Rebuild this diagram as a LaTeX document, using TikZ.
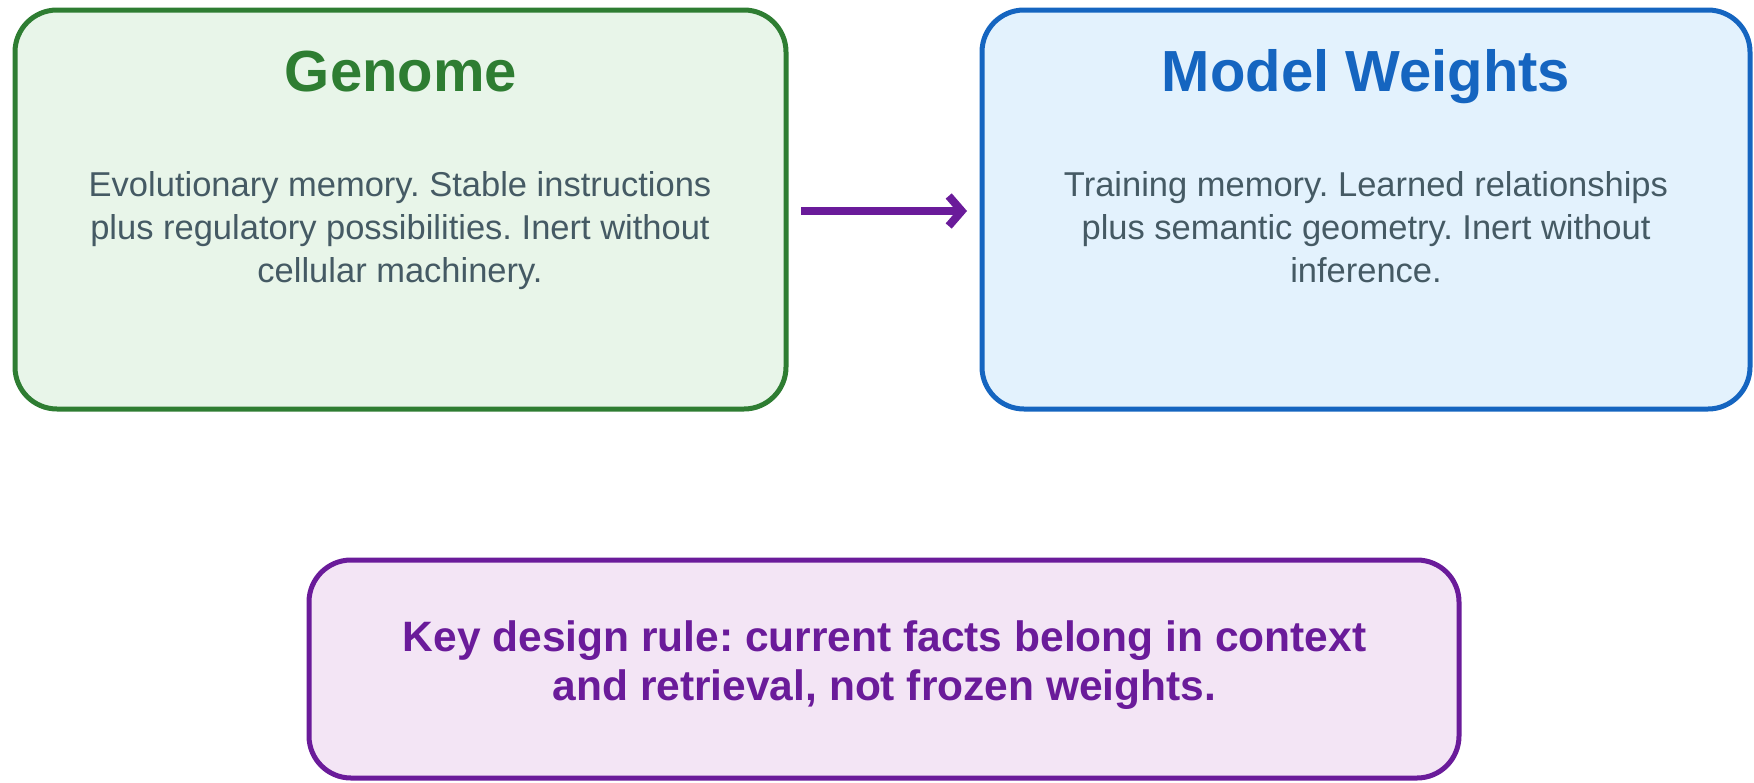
\documentclass[tikz,border=0pt]{standalone}
\usepackage{fontspec}
\setmainfont{Liberation Sans}
\usetikzlibrary{arrows.meta}
\definecolor{gstroke}{HTML}{2E7D32}
\definecolor{gfill}{HTML}{E8F5E9}
\definecolor{bstroke}{HTML}{1565C0}
\definecolor{bfill}{HTML}{E3F2FD}
\definecolor{pstroke}{HTML}{6A1B9A}
\definecolor{pfill}{HTML}{F3E5F5}
\definecolor{bodytext}{HTML}{455A64}
\tikzset{
  card/.style={draw, line width=5pt, rounded corners=42pt, inner sep=0pt},
  titletext/.style={font=\fontsize{58}{66}\selectfont\bfseries, anchor=base, inner sep=0pt},
  bodytxt/.style={font=\fontsize{34.5}{43}\selectfont\frenchspacing, text=bodytext, align=center, anchor=north, inner sep=0pt},
  keytxt/.style={font=\fontsize{42.5}{49}\selectfont\bfseries\frenchspacing, text=pstroke, align=center, anchor=north, inner sep=0pt},
  flow/.style={draw=pstroke, line width=8pt, -{Straight Barb[length=13pt,width=30pt]}}
}
\begin{document}
\begin{tikzpicture}[x=1pt,y=-1pt]
\useasboundingbox (0,0) rectangle (1754,782);
\node[card, draw=gstroke, fill=gfill, minimum width=771pt, minimum height=399pt] (genome) at (400.5,209.5) {};
\node[card, draw=bstroke, fill=bfill, minimum width=768pt, minimum height=399pt] (weights) at (1366,209.5) {};
\node[card, draw=pstroke, fill=pfill, minimum width=1150pt, minimum height=218pt] (rule) at (884,669) {};
\node[titletext, text=gstroke] (gtitle) at (401,91) {Genome};
\node[titletext, text=bstroke] (wtitle) at (1366,91) {Model Weights};
\node[bodytxt] (gbody) at (400,171) {Evolutionary memory. Stable instructions\\plus regulatory possibilities. Inert without\\cellular machinery.};
\node[bodytxt] (wbody) at (1366,171) {Training memory. Learned relationships\\plus semantic geometry. Inert without\\inference.};
\node[keytxt] (key) at (884.5,620) {Key design rule: current facts belong in context\\and retrieval, not frozen weights.};
\draw[flow] ([xshift=12.5pt]genome.east |- 0,211) -- ([xshift=-12.5pt]weights.west |- 0,211);
\end{tikzpicture}
\end{document}
